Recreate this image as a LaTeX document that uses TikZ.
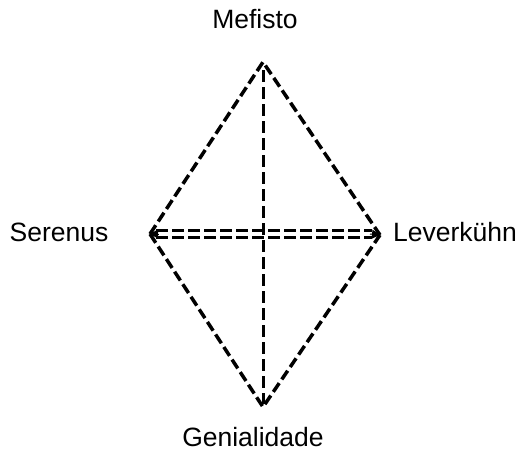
\documentclass[tikz,border=0pt]{standalone}
\usepackage{fontspec}
\setmainfont{Liberation Sans}
\usetikzlibrary{arrows.meta}
\begin{document}
\begin{tikzpicture}[x=1pt,y=-1pt,
  dline/.style={line width=3.5pt,dash pattern=on 10.5pt off 4.5pt,line cap=butt},
  vline/.style={line width=3pt,dash pattern=on 12pt off 5pt,line cap=butt},
  hline/.style={line width=3pt,dash pattern=on 12pt off 4pt,line cap=butt},
  lbl/.style={font=\fontsize{26.5}{30}\selectfont,inner sep=0pt,anchor=base},
  tip/.style={-{Triangle[length=8pt,width=9pt]}}]
\useasboundingbox (0,0) rectangle (528,451);
\coordinate (T) at (263,62);
\coordinate (L) at (150,234);
\coordinate (R) at (380,235);
\coordinate (B) at (263,407);
\coordinate (Lu) at (156,230.5);
\coordinate (Ru) at (372,230.5);
\coordinate (Ld) at (156,237.5);
\coordinate (Rd) at (372,237.5);
\coordinate (Tv) at (263,70);
\coordinate (Bv) at (263,404);
\draw[dline,line join=miter] (L) -- (T) -- (R);
\draw[dline,line join=miter] (L) -- (B) -- (R);
\draw[vline] (Tv) -- (Bv);
\draw[hline] (Lu) -- (Ru);
\draw[hline] (Ld) -- (Rd);
\coordinate (La) at (158,234);
\coordinate (Ra) at (370,234);
\draw[tip,line width=1pt] (La) -- (L);
\draw[tip,line width=1pt] (Ra) -- (R);
\node[lbl] (mef) at (255,28) {Mefisto};
\node[lbl] (ser) at (59,241) {Serenus};
\node[lbl] (lev) at (455,241) {Leverkühn};
\node[lbl] (gen) at (253,446) {Genialidade};
\end{tikzpicture}
\end{document}
